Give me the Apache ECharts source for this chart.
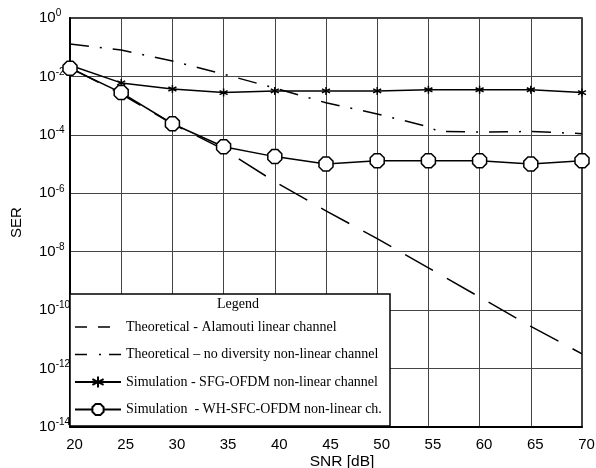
<!DOCTYPE html>
<html>
<head>
<meta charset="utf-8">
<script src="https://cdn.jsdelivr.net/npm/echarts@6/dist/echarts.min.js"></script>
<style>
  html, body { margin: 0; padding: 0; background: #fff; }
  #chart { width: 596px; height: 468px; }
</style>
</head>
<body>
<div id="chart"></div>
<script>
// SNR grid (dB) shared by the simulated curves and the Alamouti bound
const snr = [20, 25, 30, 35, 40, 45, 50, 55, 60, 65, 70];

// Theoretical SER, Alamouti over a linear channel
const serAlamouti = [2.0e-2, 2.5e-3, 2.4e-4, 3.2e-5, 2.5e-6, 2.5e-7, 2.8e-8, 2.8e-9, 2.8e-10, 2.8e-11, 3.2e-12];

// Theoretical SER, no diversity over the non-linear channel (knee near 56 dB)
const snrNoDiv = [20, 25, 30, 35, 40, 45, 50, 55, 56, 60, 65, 70];
const serNoDiv = [1.3e-1, 8.0e-2, 3.4e-2, 1.2e-2, 4.0e-3, 1.25e-3, 5.2e-4, 1.9e-4, 1.3e-4, 1.25e-4, 1.3e-4, 1.1e-4];

// Simulated SER, SFG-OFDM over the non-linear channel
const serSFG = [2.4e-2, 6.0e-3, 3.7e-3, 2.8e-3, 3.2e-3, 3.2e-3, 3.2e-3, 3.5e-3, 3.5e-3, 3.5e-3, 2.8e-3];

// Simulated SER, WH-SFC-OFDM over the non-linear channel
const serWH = [1.9e-2, 2.8e-3, 2.4e-4, 3.9e-5, 1.8e-5, 1.0e-5, 1.3e-5, 1.3e-5, 1.3e-5, 1.0e-5, 1.3e-5];

const seriesNames = [
  'Theoretical - Alamouti linear channel',
  'Theoretical \u2013 no diversity non-linear channel',
  'Simulation - SFG-OFDM non-linear channel',
  'Simulation  - WH-SFC-OFDM non-linear ch.'
];

const pair = (xs, ys) => xs.map((x, i) => [x, ys[i]]);

const asterisk = 'path://M0,-5L0,5M-4.33,-2.5L4.33,2.5M-4.33,2.5L4.33,-2.5';
const octagon = 'path://M-2.9,-7L2.9,-7L7,-2.9L7,2.9L2.9,7L-2.9,7L-7,2.9L-7,-2.9Z';

const chart = echarts.init(document.getElementById('chart'), null, { renderer: 'canvas' });

const axisFont = 'Liberation Sans, Arial, sans-serif';
const serif = 'Liberation Serif, Times New Roman, serif';
const hidden = { color: 'transparent', borderColor: 'transparent', opacity: 0 };

chart.setOption({
  animation: false,
  backgroundColor: '#fff',
  grid: {
    left: 70, top: 18, right: 14, bottom: 41,
    outerBoundsMode: 'none', containLabel: false,
    show: true, borderColor: '#000', borderWidth: 1.5, backgroundColor: 'transparent'
  },
  xAxis: {
    type: 'value', min: 20, max: 70, interval: 5,
    name: 'SNR [dB]', nameLocation: 'middle', nameGap: 27, nameMoveOverlap: false,
    nameTextStyle: { fontFamily: axisFont, fontSize: 15.5, color: '#000', padding: [0, 0, 0, 32] },
    axisLine: { lineStyle: { color: '#000', width: 2 } },
    axisTick: { show: false },
    axisLabel: { fontFamily: axisFont, fontSize: 15, color: '#000', margin: 10, padding: [0, 0, 0, 9] },
    splitLine: { show: true, lineStyle: { color: '#444', width: 1 } }
  },
  yAxis: {
    type: 'log', logBase: 10, min: 1e-14, max: 1, interval: 2,
    name: 'SER', nameLocation: 'middle', nameGap: 46, nameRotate: 90, nameMoveOverlap: false,
    nameTextStyle: { fontFamily: axisFont, fontSize: 15, color: '#000' },
    axisLine: { lineStyle: { color: '#000', width: 2 } },
    axisTick: { show: false },
    axisLabel: {
      margin: 31, align: 'left',
      formatter: function (v) {
        const e = Math.round(Math.log10(v));
        return '{b|10}{s|' + e + '}';
      },
      rich: {
        b: { fontFamily: axisFont, fontSize: 15, color: '#000' },
        s: { fontFamily: axisFont, fontSize: 10, color: '#000', verticalAlign: 'top', padding: [0, 0, 9, 0] }
      }
    },
    splitLine: { show: true, lineStyle: { color: '#444', width: 1 } }
  },
  legend: {
    z: 20,
    orient: 'vertical',
    left: 74, top: 320, padding: 0,
    itemWidth: 46, itemHeight: 14, itemGap: 13.5,
    textStyle: { fontFamily: serif, fontSize: 14, color: '#000' },
    data: [
      { name: seriesNames[0], itemStyle: hidden, lineStyle: { type: [12, 11], width: 1.5, color: '#000' } },
      { name: seriesNames[1], itemStyle: hidden, lineStyle: { type: [12, 12, 2, 8], width: 1.5, color: '#000' } },
      { name: seriesNames[2] },
      { name: seriesNames[3] }
    ]
  },
  graphic: [
    {
      type: 'rect', z: 10,
      shape: { x: 70, y: 294, width: 320, height: 132 },
      style: { fill: '#fff', stroke: '#000', lineWidth: 1.5 }
    },
    {
      type: 'text', z: 11, left: 217, top: 297,
      style: { text: 'Legend', font: '14px ' + serif, fill: '#000' }
    }
  ],
  series: [
    {
      name: seriesNames[0], type: 'line',
      data: pair(snr, serAlamouti),
      showSymbol: false, symbol: 'none',
      lineStyle: { color: '#000', width: 1.5, type: [32, 16] },
      itemStyle: { color: '#000' }
    },
    {
      name: seriesNames[1], type: 'line',
      data: pair(snrNoDiv, serNoDiv),
      showSymbol: false, symbol: 'none',
      lineStyle: { color: '#000', width: 1.5, type: [19, 11, 2, 11] },
      itemStyle: { color: '#000' }
    },
    {
      name: seriesNames[2], type: 'line',
      data: pair(snr, serSFG),
      symbol: asterisk, symbolSize: 8,
      lineStyle: { color: '#000', width: 1.5 },
      itemStyle: { color: '#000', borderColor: '#000', borderWidth: 1.5 }
    },
    {
      name: seriesNames[3], type: 'line',
      data: pair(snr, serWH),
      symbol: octagon, symbolSize: 14,
      lineStyle: { color: '#000', width: 1.5 },
      itemStyle: { color: '#fff', borderColor: '#000', borderWidth: 1.5 }
    }
  ]
});
</script>
</body>
</html>
